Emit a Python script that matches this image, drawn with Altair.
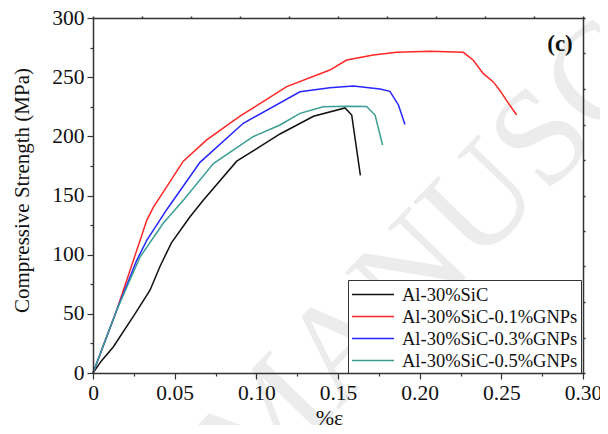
import altair as alt
import pandas as pd

FONT = "Liberation Serif"

series_names = ["Al-30%SiC", "Al-30%SiC-0.1%GNPs", "Al-30%SiC-0.3%GNPs", "Al-30%SiC-0.5%GNPs"]
series_colors = ["#111111", "#ff2626", "#2626ff", "#3a9e94"]

sic_x = [0, 0.005, 0.0124, 0.0257, 0.0349, 0.041, 0.048, 0.0594, 0.0675, 0.088, 0.1145, 0.135, 0.1543, 0.1584, 0.1637]
sic_y = [0, 10, 22, 50, 70, 90, 110, 132, 146, 179, 202, 217, 224, 218, 167]

g01_x = [0, 0.0145, 0.0247, 0.0329, 0.0369, 0.0553, 0.0696, 0.09, 0.1186, 0.145, 0.1553, 0.1716, 0.186, 0.2063, 0.2267, 0.2327, 0.239, 0.2451, 0.249, 0.2543, 0.2594]
g01_y = [0, 53, 95, 129, 140, 179, 197, 217, 242, 256, 264.5, 268.7, 271, 272, 271, 264.5, 253, 246, 239, 228, 218]

g03_x = [0, 0.0145, 0.0267, 0.0329, 0.0451, 0.0655, 0.092, 0.1267, 0.145, 0.1594, 0.1757, 0.1818, 0.187, 0.191]
g03_y = [0, 53, 95, 112, 138, 178, 211, 237.7, 241, 242.5, 240, 238, 226.5, 210]

g05_x = [0, 0.0145, 0.0288, 0.043, 0.0553, 0.0737, 0.098, 0.1145, 0.1267, 0.141, 0.155, 0.1675, 0.1727, 0.1773]
g05_y = [0, 53, 98, 126.5, 146, 177, 199.7, 209.6, 219.4, 225, 225.5, 225.3, 218, 192.7]

x_major = [0, 0.05, 0.10, 0.15, 0.20, 0.25, 0.30]
x_minor = [0.025, 0.075, 0.125, 0.175, 0.225, 0.275]
x_top = [0, 0.03, 0.06, 0.09, 0.12, 0.15, 0.18, 0.21, 0.24, 0.27, 0.30]
y_major = [0, 50, 100, 150, 200, 250, 300]
y_minor = [25, 75, 125, 175, 225, 275]
y_right = [0, 30, 60, 90, 120, 150, 180, 210, 240, 270, 300]

rows = []
for name, xs, ys in zip(series_names, [sic_x, g01_x, g03_x, g05_x], [sic_y, g01_y, g03_y, g05_y]):
    for i, (a, b) in enumerate(zip(xs, ys)):
        rows.append({"series": name, "strain": a, "stress": b, "order": i})
df = pd.DataFrame(rows)

x_scale = alt.Scale(domain=[0, 0.30], nice=False, zero=False)
y_scale = alt.Scale(domain=[0, 300], nice=False, zero=False)
AX = "#333333"

main = alt.Chart(df).mark_line(strokeWidth=1.5).encode(
    x=alt.X("strain:Q", scale=x_scale, axis=alt.Axis(
        orient="bottom", values=x_major, grid=False, tickSize=6, tickColor=AX, tickWidth=1.2,
        domainColor=AX, domainWidth=1.5, labelFont=FONT, labelFontSize=21.5, labelColor="#111",
        labelPadding=3, labelExpr="datum.value == 0 ? '0' : format(datum.value, '.2f')",
        labelFlush=False, labelOverlap=False, zindex=1,
        title="%ε", titleFont=FONT, titleFontSize=22, titleFontWeight="normal", titleColor="#111",
        titleX=236, titleY=51, titleBaseline="alphabetic", titleAlign="center")),
    y=alt.Y("stress:Q", scale=y_scale, axis=alt.Axis(
        orient="left", values=y_major, grid=False, tickSize=6, tickColor=AX, tickWidth=1.2,
        domainColor=AX, domainWidth=1.5, labelFont=FONT, labelFontSize=21.5, labelColor="#111",
        labelPadding=3, format="d", labelOverlap=False, labelFlush=False, zindex=1,
        title="Compressive Strength (MPa)", titleFont=FONT, titleFontSize=21, titleFontWeight="normal",
        titleColor="#111", titleX=-71, titleY=172, titleAngle=270, titleBaseline="middle",
        titleAlign="center")),
    color=alt.Color("series:N", scale=alt.Scale(domain=series_names, range=series_colors),
                    legend=alt.Legend(orient="none", legendX=255, legendY=262, title=None,
                                      symbolType="M-1,0H3", symbolSize=441, symbolStrokeWidth=1.5,
                                      labelFont=FONT, labelFontSize=18.5, labelColor="#111",
                                      labelLimit=0, strokeColor="#333", fillColor="white",
                                      padding=3, rowPadding=1, labelOffset=28)),
    order="order:Q",
)

minor = alt.Chart(df).mark_line(opacity=0).encode(
    x=alt.X("strain:Q", scale=x_scale, axis=alt.Axis(
        orient="bottom", values=x_minor, grid=False, labels=False, domain=False, tickSize=3,
        tickColor=AX, tickWidth=1.2, title=None, zindex=1)),
    y=alt.Y("stress:Q", scale=y_scale, axis=alt.Axis(
        orient="left", values=y_minor, grid=False, labels=False, domain=False, tickSize=3,
        tickColor=AX, tickWidth=1.2, title=None, zindex=1)),
    detail="series:N",
)

frame = alt.Chart(df).mark_line(opacity=0).encode(
    x=alt.X("strain:Q", scale=x_scale, axis=alt.Axis(
        orient="top", values=x_top, grid=False, labels=False, domainColor=AX, domainWidth=1.5,
        tickSize=2, tickColor=AX, tickWidth=1.5, title=None, zindex=1)),
    y=alt.Y("stress:Q", scale=y_scale, axis=alt.Axis(
        orient="right", values=y_right, grid=False, labels=False, domainColor=AX, domainWidth=1.5,
        tickSize=2, tickColor=AX, tickWidth=1.5, title=None, zindex=1)),
    detail="series:N",
)

watermark = alt.Chart(pd.DataFrame({"t": ["MANUSCRIPT"]})).mark_text(
    font=FONT, fontSize=138, angle=314, align="left", baseline="middle", color="#ececec"
).encode(text="t:N", x=alt.value(130), y=alt.value(452))

label_c = alt.Chart(pd.DataFrame({"t": ["(c)"]})).mark_text(
    font=FONT, fontSize=23, fontWeight="bold", color="#111"
).encode(text="t:N", x=alt.value(467), y=alt.value(26))

chart = alt.layer(watermark, minor, frame, main, label_c).resolve_axis(
    x="independent", y="independent"
).properties(
    width=490, height=355,
    autosize=alt.AutoSizeParams(type="none"),
    padding={"left": 85, "top": 10, "right": 17, "bottom": 52},
).configure_view(stroke=None)

chart.save("out.html", embed_options={"renderer": "svg", "actions": False})
